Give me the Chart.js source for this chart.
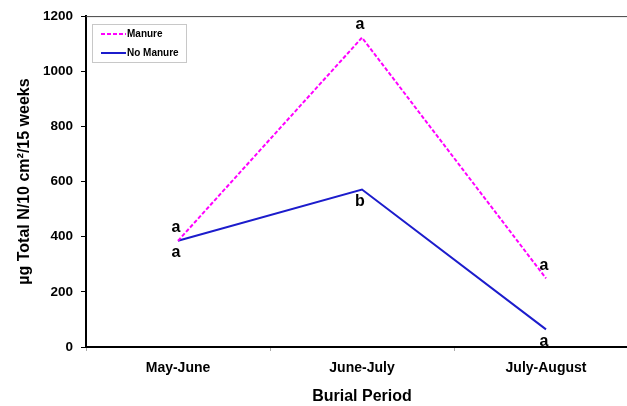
<!DOCTYPE html>
<html>
<head>
<meta charset="utf-8">
<script src="https://cdn.jsdelivr.net/npm/chart.js@4"></script>
<style>
	html, body { margin: 0; padding: 0; overflow: hidden; background: #fff; }
</style>
</head>
<body>
<canvas id="burialChart" width="640" height="406"></canvas>
<script>
const periods = ["May-June", "June-July", "July-August"];
const manure = [385, 1122, 249];
const noManure = [385, 571, 64];
const manureLetters = ["a", "a", "a"];
const noManureLetters = ["a", "b", "a"];
const yTicks = [0, 200, 400, 600, 800, 1000, 1200];

const FONT = 'Arial, "Liberation Sans", sans-serif';

// letters + legend + grey top border
const extras = {
	id: "extras",
	afterDraw(chart) {
		const ctx = chart.ctx;
		const x = chart.scales.x, y = chart.scales.y;
		const area = chart.chartArea;
		ctx.save();

		ctx.strokeStyle = "#444";
		ctx.lineWidth = 1;
		ctx.beginPath();
		ctx.moveTo(area.left, area.top + 0.5);
		ctx.lineTo(area.right, area.top + 0.5);
		ctx.stroke();

		ctx.fillStyle = "#000";
		ctx.font = "bold 16px " + FONT;
		ctx.textAlign = "center";
		ctx.textBaseline = "middle";
		periods.forEach((p, i) => {
			const px = x.getPixelForValue(i);
			ctx.fillText(manureLetters[i], px - 2, y.getPixelForValue(manure[i]) - 13);
			ctx.fillText(noManureLetters[i], px - 2, y.getPixelForValue(noManure[i]) + 12);
		});

		// legend box
		ctx.fillStyle = "#fff";
		ctx.fillRect(92.5, 24.5, 94, 38);
		ctx.strokeStyle = "#c8c8c8";
		ctx.strokeRect(92.5, 24.5, 94, 38);
		ctx.font = "bold 10px " + FONT;
		ctx.textAlign = "left";
		chart.data.datasets.forEach((ds, i) => {
			const ly = 34 + i * 19;
			ctx.strokeStyle = ds.borderColor;
			ctx.lineWidth = 2;
			ctx.setLineDash(ds.borderDash || []);
			ctx.beginPath();
			ctx.moveTo(101, ly);
			ctx.lineTo(126, ly);
			ctx.stroke();
			ctx.setLineDash([]);
			ctx.fillStyle = "#000";
			ctx.fillText(ds.label, 127, ly);
		});
		ctx.restore();
	}
};

new Chart(document.getElementById("burialChart"), {
	type: "line",
	data: {
		labels: periods,
		datasets: [
			{
				label: "Manure",
				data: manure,
				borderColor: "#ff00ff",
				borderWidth: 2,
				borderDash: [4, 2],
				pointRadius: 0,
				tension: 0,
				fill: false,
			},
			{
				label: "No Manure",
				data: noManure,
				borderColor: "#1c1ccc",
				borderWidth: 2,
				pointRadius: 0,
				tension: 0,
				fill: false,
			},
		],
	},
	options: {
		responsive: false,
		animation: false,
		layout: { padding: { left: 0, top: 16, right: 2, bottom: 0 } },
		plugins: {
			legend: { display: false },
			tooltip: { enabled: false },
		},
		scales: {
			x: {
				offset: true,
				grid: {
					offset: true,
					drawOnChartArea: false,
					tickLength: 4,
					color: "#aaa",
				},
				border: { color: "#000", width: 2 },
				ticks: {
					padding: 9,
					color: "#000",
					font: { family: FONT, size: 14, weight: "bold" },
				},
				title: {
					display: true,
					text: "Burial Period",
					color: "#000",
					padding: { top: 0, bottom: 0 },
					font: { family: FONT, size: 16, weight: "bold" },
				},
				afterFit: (s) => { s.height = 59; },
			},
			y: {
				min: yTicks[0],
				max: yTicks[yTicks.length - 1],
				ticks: {
					stepSize: yTicks[1] - yTicks[0],
					padding: 8,
					color: "#000",
					font: { family: FONT, size: 13.5, weight: "bold" },
					callback: (v) => String(v),
				},
				grid: {
					drawOnChartArea: false,
					tickLength: 5,
					color: "#000",
				},
				border: { color: "#000", width: 2 },
				title: {
					display: true,
					text: "µg Total N/10 cm²/15 weeks",
					color: "#000",
					padding: { top: 15, bottom: 0 },
					font: { family: FONT, size: 16, weight: "bold" },
				},
				afterFit: (s) => { s.width = 86; },
			},
		},
	},
	plugins: [extras],
});
</script>
</body>
</html>
